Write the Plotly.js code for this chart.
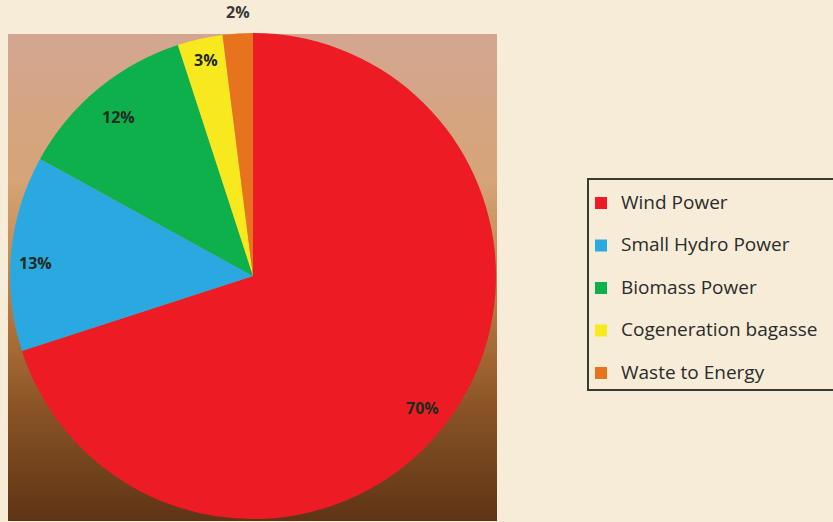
<!DOCTYPE html>
<html>
<head>
<meta charset="utf-8">
<script src="https://cdn.plot.ly/plotly-3.0.1.min.js"></script>
<style>html,body{margin:0;padding:0;background:#f6ecd7;}#chart{width:833px;height:522px;}</style>
</head>
<body>
<div id="chart"></div>
<script>
// ---- data ----
var categories = ["Wind Power", "Small Hydro Power", "Biomass Power", "Cogeneration bagasse", "Waste to Energy"];
var shares = [70, 13, 12, 3, 2];
var sliceColors = ["#ed1c24", "#2aa9e1", "#0db04b", "#f7e91e", "#e8731f"];

// ---- layout constants (styling only) ----
var W = 833, H = 522;
var CX = 253, CY = 276, R = 243;           // pie centre / radius in px
var labelRadius = [0.88, 0.90, 0.86, 0.91, 1.09];
var labelNudge = [[-4, 6], [0, 8], [-1, 2], [1, 0], [2, 0]];  // small px tweaks

// gradient backdrop behind the pie (integer-pixel bands)
var stops = [[0, [211, 166, 145]], [0.3, [214, 164, 118]], [0.55, [186, 122, 66]], [0.78, [136, 82, 36]], [1, [94, 52, 22]]];
function colAt(t) {
  for (var i = 0; i < stops.length - 1; i++) {
    var a = stops[i], b = stops[i + 1];
    if (t >= a[0] && t <= b[0]) {
      var f = (t - a[0]) / (b[0] - a[0]);
      var c = a[1].map(function (v, k) { return Math.round(v + (b[1][k] - v) * f); });
      return 'rgb(' + c.join(',') + ')';
    }
  }
  return 'rgb(' + stops[stops.length - 1][1].join(',') + ')';
}
var shapes = [];
var bx0 = 8, bx1 = 497, by0 = 34, by1 = 521, step = 3;
for (var ya = by0; ya < by1; ya += step) {
  var yb = Math.min(ya + step, by1);
  shapes.push({type: 'rect', xref: 'paper', yref: 'paper', layer: 'below',
    x0: bx0 / W, x1: bx1 / W, y0: 1 - yb / H, y1: 1 - ya / H,
    fillcolor: colAt(((ya + yb) / 2 - by0) / (by1 - by0)), line: {width: 0}});
}
// legend frame
shapes.push({type: 'rect', xref: 'paper', yref: 'paper', layer: 'above',
  x0: 588 / W, x1: 840 / W, y0: 1 - 390 / H, y1: 1 - 179 / H,
  fillcolor: 'rgba(0,0,0,0)', line: {color: '#3b3b36', width: 2}});

// percentage labels placed along each slice's mid-angle
var total = shares.reduce(function (a, b) { return a + b; }, 0);
var annotations = [];
var cum = 0;
shares.forEach(function (v, i) {
  var mid = (cum + v / 2) / total * 2 * Math.PI;
  cum += v;
  var r = R * labelRadius[i];
  var px = CX + r * Math.sin(mid) + labelNudge[i][0], py = CY - r * Math.cos(mid) + labelNudge[i][1];
  annotations.push({xref: 'paper', yref: 'paper', x: px / W, y: 1 - py / H,
    xanchor: 'center', yanchor: 'middle', showarrow: false,
    text: v + '%', font: {family: 'Open Sans', size: 16, weight: 'bold', color: i === 4 ? '#3a3a3a' : '#1e2a22'}});
});

var trace = {
  type: 'pie',
  labels: categories.map(function (c) { return '<span style="font-size:19px">' + c + '</span><br> '; }),
  values: shares,
  sort: false,
  direction: 'clockwise',
  rotation: 0,
  textinfo: 'none',
  hoverinfo: 'skip',
  marker: {colors: sliceColors, line: {width: 0}},
  domain: {x: [(CX - R) / W, (CX + R) / W], y: [1 - (CY + R) / H, 1 - (CY - R) / H]}
};

var layout = {
  width: W, height: H,
  margin: {l: 0, r: 0, t: 0, b: 0},
  paper_bgcolor: '#f6ecd7',
  showlegend: true,
  legend: {x: 581 / W, xanchor: 'left', y: 1 - 186.5 / H, yanchor: 'top',
    bgcolor: 'rgba(0,0,0,0)', borderwidth: 0, valign: 'top',
    font: {family: 'Open Sans', size: 15.2, color: '#2b2b2b'}},
  shapes: shapes,
  annotations: annotations
};

Plotly.newPlot('chart', [trace], layout, {displayModeBar: false, staticPlot: true});
</script>
</body>
</html>
